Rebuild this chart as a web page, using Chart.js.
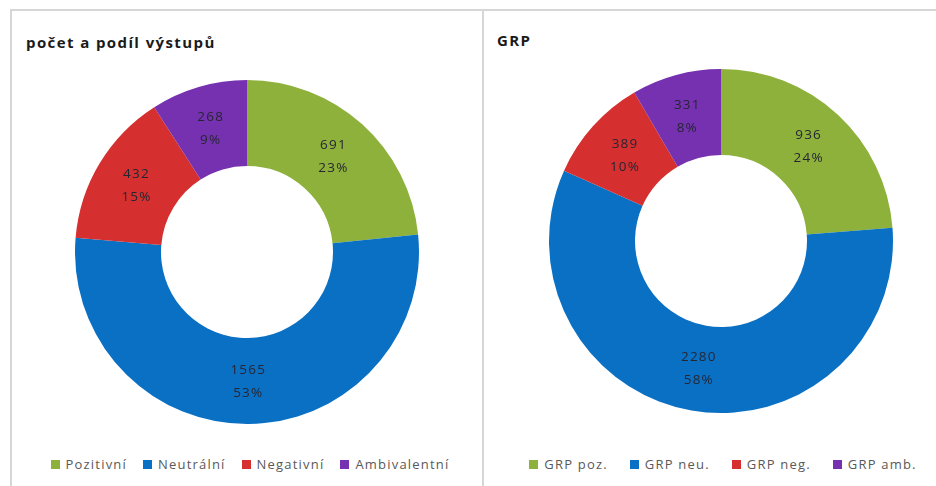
<!DOCTYPE html>
<html lang="cs">
<head>
<meta charset="utf-8">
<script src="https://cdn.jsdelivr.net/npm/chart.js@4/dist/chart.umd.min.js"></script>
<style>
  html, body { margin: 0; padding: 0; background: #fff; }
  body { width: 936px; height: 486px; position: relative; overflow: hidden;
         font-family: "Open Sans", "Liberation Sans", sans-serif; }
  .panel { position: absolute; border: 2px solid #d6d6d6; box-sizing: border-box; background: #fff; }
  .title { position: absolute; font-weight: bold; font-size: 15px; letter-spacing: 1.4px; color: #1a1a1a; }
  .legend { position: absolute; display: flex; justify-content: center; gap: 16px;
            font-size: 13px; letter-spacing: 1.2px; color: #595959; white-space: nowrap; }
  .legend span { display: inline-flex; align-items: center; }
  .legend i { display: inline-block; width: 9px; height: 9px; margin-right: 6px; }
  canvas { position: absolute; }
</style>
</head>
<body>
<div class="panel" style="left:10px; top:9px; width:474px; height:490px;"></div>
<div class="panel" style="left:482px; top:9px; width:470px; height:490px;"></div>

<div class="title" style="left:26px; top:32px;">počet a podíl výstupů</div>
<div class="title" style="left:497px; top:30px;">GRP</div>

<canvas id="c1" width="354" height="354" style="left:70px; top:75px;"></canvas>
<canvas id="c2" width="354" height="354" style="left:544px; top:64px;"></canvas>

<div class="legend" id="lg1" style="left:30px; width:440px; top:455px;"></div>
<div class="legend" id="lg2" style="left:500px; width:446px; top:455px; gap:22px;"></div>

<script>
// Počet výstupů podle vyznění
const outputLabels = ['Pozitivní', 'Neutrální', 'Negativní', 'Ambivalentní'];
const outputValues = [691, 1565, 432, 268];

// GRP podle vyznění
const grpLabels = ['GRP poz.', 'GRP neu.', 'GRP neg.', 'GRP amb.'];
const grpValues = [936, 2280, 389, 331];

const sliceColors = ['#8db13b', '#0a70c4', '#d5302f', '#7631b1'];

// Popisky uvnitř výsečí: hodnota a podíl v procentech
const sliceLabels = {
  id: 'sliceLabels',
  afterDatasetsDraw(chart) {
    const ctx = chart.ctx;
    const ds = chart.data.datasets[0];
    const total = ds.data.reduce((a, b) => a + b, 0);
    const meta = chart.getDatasetMeta(0);
    ctx.save();
    ctx.font = '13.5px "Open Sans", "Liberation Sans", sans-serif';
    if ('letterSpacing' in ctx) ctx.letterSpacing = '1.2px';
    ctx.fillStyle = '#262633';
    ctx.textAlign = 'center';
    ctx.textBaseline = 'middle';
    meta.data.forEach((arc, i) => {
      const p = arc.tooltipPosition();
      const v = ds.data[i];
      const pct = Math.round(v / total * 100) + '%';
      ctx.fillText(String(v), p.x, p.y - 11);
      ctx.fillText(pct, p.x, p.y + 12);
    });
    ctx.restore();
  }
};

function makeDonut(id, labels, values) {
  return new Chart(document.getElementById(id), {
    type: 'doughnut',
    data: {
      labels: labels,
      datasets: [{
        data: values,
        backgroundColor: sliceColors,
        borderWidth: 0
      }]
    },
    options: {
      responsive: false,
      animation: false,
      cutout: '50%',
      layout: { padding: 5 },
      plugins: { legend: { display: false }, tooltip: { enabled: false } }
    },
    plugins: [sliceLabels]
  });
}

function makeLegend(id, labels) {
  const el = document.getElementById(id);
  labels.forEach((t, i) => {
    const s = document.createElement('span');
    const sw = document.createElement('i');
    sw.style.background = sliceColors[i];
    s.appendChild(sw);
    s.appendChild(document.createTextNode(t));
    el.appendChild(s);
  });
}

makeDonut('c1', outputLabels, outputValues);
makeDonut('c2', grpLabels, grpValues);
makeLegend('lg1', outputLabels);
makeLegend('lg2', grpLabels);
</script>
</body>
</html>
